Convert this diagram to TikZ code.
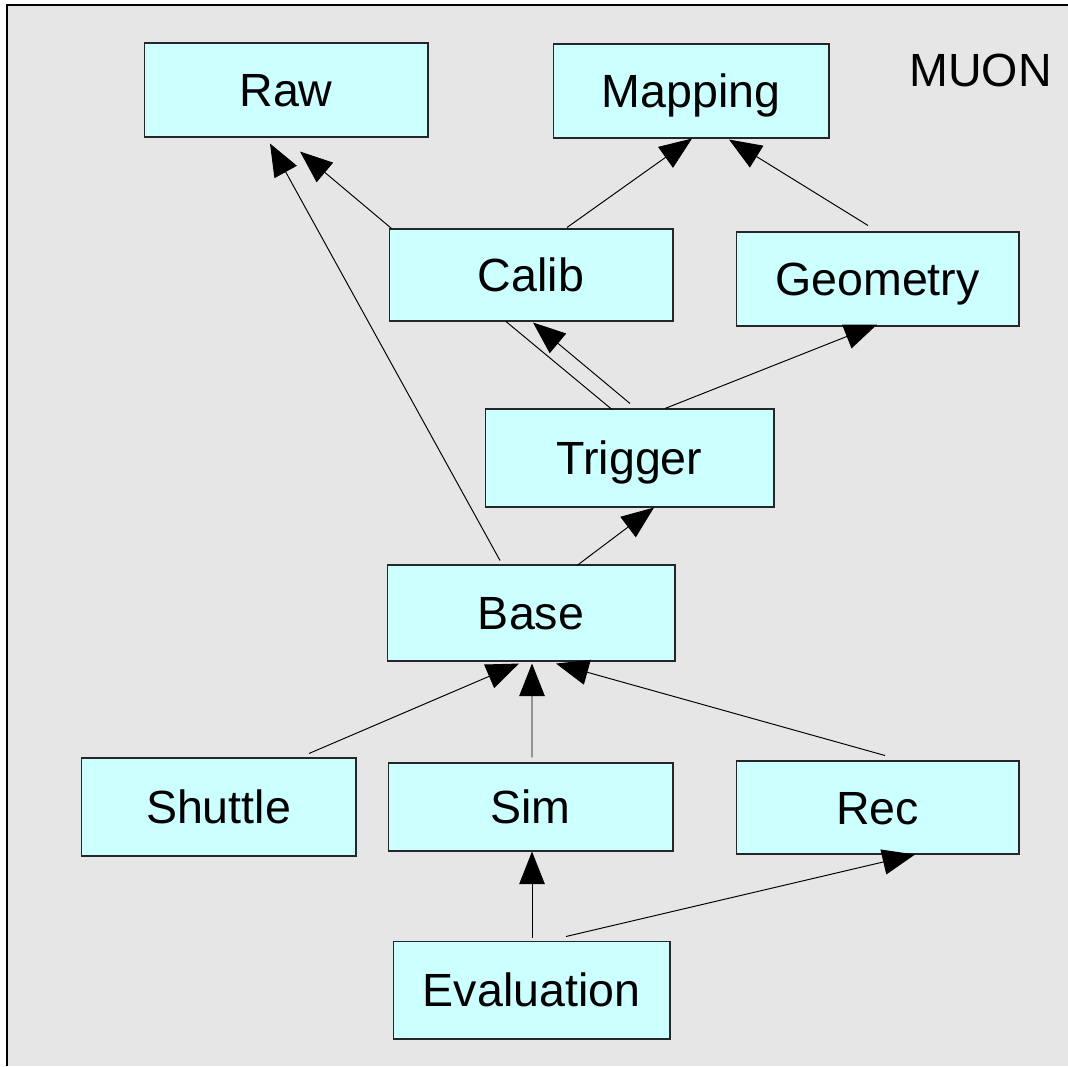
\documentclass[tikz,border=0pt]{standalone}
\usepackage{fontspec}
\setmainfont{Liberation Sans}
\usepackage{xcolor}
\usepackage{tikz}
\usetikzlibrary{arrows.meta,calc}
\definecolor{pkgfill}{HTML}{CCFFFF}
\definecolor{bggray}{HTML}{E6E6E6}

\begin{document}
\begin{tikzpicture}[x=0.02cm, y=-0.02cm,
  pkg/.style={draw=black!85, fill=pkgfill, line width=0.6pt, inner sep=0pt,
    minimum width=5.68cm, minimum height=1.88cm,
    text height=19pt, text depth=0pt, font=\fontsize{26.5}{30}\selectfont},
  dep/.style={-{Triangle[length=18.5pt,width=14.5pt]}, line width=0.55pt}]
 \useasboundingbox (0,0) rectangle (1068,1066);
 \fill[bggray] (7,5) rectangle (1068,1066);
 \draw[line width=0.8pt] (7,1066) -- (7,5) -- (1068,5);
 \node[font=\fontsize{26.5}{30}\selectfont] (muon) at (980.5,70) {MUON};
 \node[pkg] (raw) at (286,90) {Raw};
 \node[pkg, minimum width=5.52cm] (mapping) at (691,91) {Mapping};
 \node[pkg, minimum height=1.84cm] (calib) at (531,275) {Calib};
 \node[pkg, minimum width=5.66cm] (geometry) at (877.5,279) {Geometry};
 \node[pkg, minimum width=5.78cm, minimum height=1.96cm] (trigger) at (629.5,458) {Trigger};
 \node[pkg, minimum width=5.76cm, minimum height=1.92cm] (base) at (531,613) {Base};
 \node[pkg, minimum width=5.5cm, minimum height=1.96cm] (shuttle) at (218.5,807) {Shuttle};
 \node[pkg, minimum width=5.7cm, minimum height=1.76cm] (sim) at (530.5,807) {Sim};
 \node[pkg, minimum width=5.66cm, minimum height=1.86cm] (rec) at (877.5,807.5) {Rec};
 \node[pkg, minimum width=5.54cm, minimum height=1.96cm] (evaluation) at (531.5,990) {Evaluation};
 \draw[dep] ($(base.north)+(-31,-4)$) -- ($(raw.south)+(-16,6)$);
 \draw[dep] ($(calib.north west)+(3,0)$) -- ($(raw.south)+(14,14)$);
 \draw[dep] ($(calib.north)+(36,-1)$) -- ($(mapping.south)+(1,0)$);
 \draw[dep] ($(geometry.north)+(-9.5,-6)$) -- ($(mapping.south)+(38,1)$);
 \draw[line width=0.55pt] ($(calib.south)+(-25,0)$) -- ($(trigger.north)+(-17.5,1)$);
 \draw[dep] ($(trigger.north)+(0.5,-5)$) -- ($(calib.south)+(2,1)$);
 \draw[dep] ($(trigger.north)+(35.5,0)$) -- ($(geometry.south)+(-0.5,-2)$);
 \draw[dep] ($(base.north)+(46,1)$) -- ($(trigger.south)+(24.5,0)$);
 \draw[dep] ($(shuttle.north)+(90.5,-4)$) -- ($(base.south)+(-12,2)$);
 \draw[dep] ($(sim.north)+(1.5,-5)$) -- ($(base.south)+(1,2)$);
 \draw[dep] ($(rec.north)+(7.5,-5)$) -- ($(base.south)+(25,2)$);
 \draw[dep] ($(evaluation.north)+(0.5,-3)$) -- ($(sim.south)+(1.5,0)$);
 \draw[dep] ($(evaluation.north)+(34.5,-4)$) -- ($(rec.south)+(37.5,0)$);
\end{tikzpicture}
\end{document}
